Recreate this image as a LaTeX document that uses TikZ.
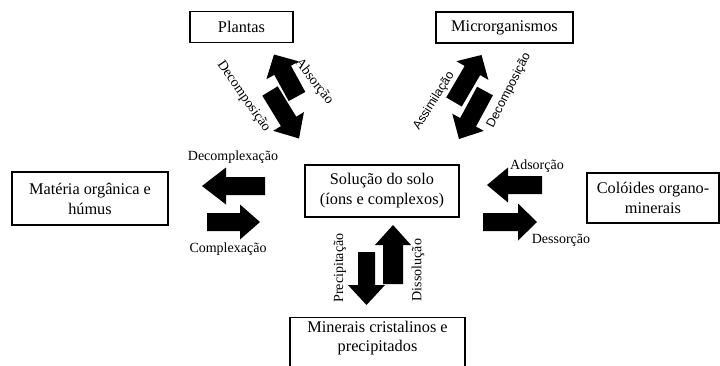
\documentclass[tikz,border=0pt]{standalone}
\usepackage{fontspec}
\setmainfont{Liberation Serif}
\newfontfamily\lsans{Liberation Sans}
\usetikzlibrary{calc}
\tikzset{
  boxline/.style={draw=black, line width=1.3pt, inner sep=0pt, align=center,
    font=\fontsize{16.3}{20}\selectfont},
  boxthick/.style={boxline, line width=1.8pt},
  lbl/.style={inner sep=0pt, font=\fontsize{14}{16}\selectfont},
  slbl/.style={inner sep=0pt, font=\lsans\fontsize{12.4}{14}\selectfont},
  arrowfill/.style={fill=black}
}
% name, tail, tip, shaft half width, head half width, head length
\newcommand\blkarrow[6]{%
  \coordinate (#1-h) at ($(#3)!#6!(#2)$);
  \fill[arrowfill] ($(#2)!#4!90:(#3)$) -- ($(#1-h)!#4!90:(#3)$) -- ($(#1-h)!#5!90:(#3)$)
    -- (#3) -- ($(#1-h)!#5!-90:(#3)$) -- ($(#1-h)!#4!-90:(#3)$) -- ($(#2)!#4!-90:(#3)$) -- cycle;}
\begin{document}
\begin{tikzpicture}[x=1pt,y=-1pt]
\useasboundingbox (0,0) rectangle (720,365);
% boxes
\node (plantas) [boxthick, minimum width=103pt, minimum height=31pt] at (241.5,27) {Plantas};
\node (micro) [boxthick, minimum width=137pt, minimum height=31pt] at (504.5,27.5) {Microrganismos};
\node (materia) [boxline, minimum width=156pt, minimum height=53pt] at (90,198.5) {Matéria orgânica e\\húmus};
\node (solucao) [boxline, minimum width=154pt, minimum height=52pt] at (382,191) {Solução do solo\\(íons e complexos)};
\node (coloides) [boxline, minimum width=132pt, minimum height=50pt] at (653,198) {Colóides organo-\\minerais};
\node (minerais) [boxline, minimum width=175pt, minimum height=56pt, anchor=north] at (377.5,317) {};
\node (mintext) [align=center, inner sep=0pt, font=\fontsize{16.3}{19}\selectfont, yshift=8pt] at (minerais.center) {Minerais cristalinos e\\precipitados};
% arrow end points
\coordinate (dc-t) at (265,186); \coordinate (dc-p) at (202,186);
\coordinate (cp-t) at (207,222); \coordinate (cp-p) at (260,222);
\coordinate (ad-t) at (542,185); \coordinate (ad-p) at (487,185);
\coordinate (ds-t) at (483,222); \coordinate (ds-p) at (537,222);
\coordinate (pr-t) at (366.5,252); \coordinate (pr-p) at (366.5,305);
\coordinate (di-t) at (393,284); \coordinate (di-p) at (393,225);
\coordinate (ab-t) at (297,96.5); \coordinate (ab-p) at (274,54.5);
\coordinate (dp-t) at (270,91); \coordinate (dp-p) at (299,138.5);
\coordinate (as-t) at (454,102); \coordinate (as-p) at (481.5,55);
\coordinate (dm-t) at (485,91); \coordinate (dm-p) at (459,139);
% arrows
\blkarrow{dc}{dc-t}{dc-p}{9pt}{18.5pt}{24pt}
\blkarrow{cp}{cp-t}{cp-p}{9pt}{17.5pt}{20pt}
\blkarrow{ad}{ad-t}{ad-p}{9pt}{17.5pt}{21pt}
\blkarrow{ds}{ds-t}{ds-p}{9pt}{18.5pt}{19pt}
\blkarrow{pr}{pr-t}{pr-p}{8.5pt}{18.5pt}{20pt}
\blkarrow{di}{di-t}{di-p}{10pt}{18pt}{20pt}
\blkarrow{ab}{ab-t}{ab-p}{9.5pt}{18.5pt}{18pt}
\blkarrow{dp}{dp-t}{dp-p}{9pt}{18pt}{20pt}
\blkarrow{as}{as-t}{as-p}{9pt}{18.5pt}{18pt}
\blkarrow{dm}{dm-t}{dm-p}{9pt}{18pt}{19pt}
% labels
\node (l-dc) [lbl] at (233,157) {Decomplexação};
\node (l-cp) [lbl] at (228,249) {Complexação};
\node (l-ad) [lbl] at (537,166) {Adsorção};
\node (l-ds) [lbl] at (561,240) {Dessorção};
\node (l-pr) [lbl, rotate=90] at (340,268) {Precipitação};
\node (l-di) [lbl, rotate=90] at (418,270) {Dissolução};
\node (l-dp) [lbl, rotate=-55] at (243.5,96.5) {Decomposição};
\node (l-ab) [lbl, rotate=-52] at (314,82) {Absorção};
\node (l-as) [slbl, rotate=58] at (434,101) {Assimilação};
\node (l-dm) [slbl, rotate=63] at (509,90.5) {Decomposição};
\end{tikzpicture}
\end{document}
